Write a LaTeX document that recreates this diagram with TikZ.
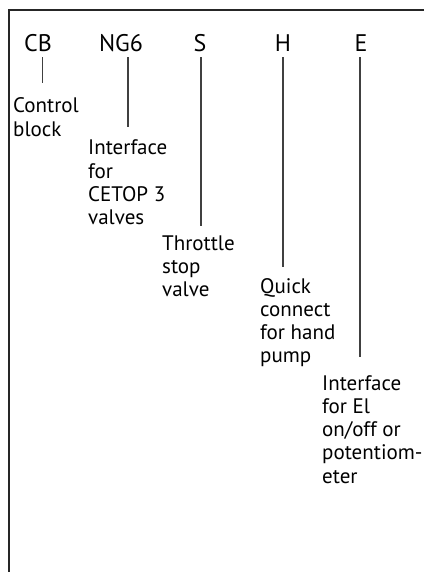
\documentclass[tikz,border=0pt]{standalone}
\usepackage{fontspec}
\setmainfont{PT Sans}
\newcommand{\lbl}[1]{\begin{tabular}[t]{@{}l@{}}#1\end{tabular}}
\begin{document}
\begin{tikzpicture}[x=1pt,y=-1pt,
  hdr/.style={anchor=base,inner sep=0pt,font=\fontsize{24}{28}\selectfont},
  txt/.style={anchor=base west,inner sep=0pt,font=\fontsize{21}{23.3}\selectfont},
  lead/.style={line width=1.4pt,draw=black!75},
  frame/.style={line width=1.6pt,draw=black!85}]
\useasboundingbox (0,0) rectangle (424,572);
\coordinate (tl) at (9,10);
\coordinate (tr) at (424,10);
\coordinate (bl) at (9,572);
\draw[frame] (tr) -- (tl) -- (bl);
% headers
\node[hdr] (cb) at (38,52) {CB};
\node[hdr] (ng) at (121,52) {NG6};
\node[hdr] (s) at (200,52) {S};
\node[hdr] (h) at (283,52) {H};
\node[hdr] (e) at (361,52) {E};
% labels
\node[txt] (tcb) at (13,113) {\lbl{Control\\block}};
\node[txt] (tng) at (88,155) {\lbl{Interface\\for\\CETOP 3\\valves}};
\node[txt] (ts) at (162,250) {\lbl{Throttle\\stop\\valve}};
\node[txt] (th) at (260,293) {\lbl{Quick\\connect\\for hand\\pump}};
\node[txt] (te) at (322,390) {\lbl{Interface\\for El\\on/off or\\potentiom-\\eter}};
% leader end points
\coordinate (ecb) at (42.7,83);
\coordinate (eng) at (128,127);
\coordinate (es) at (201,226);
\coordinate (eh) at (283,267);
\coordinate (ee) at (360,357);
\draw[lead] (cb.south -| ecb) ++(0,5) -- (ecb);
\draw[lead] (ng.south -| eng) ++(0,5) -- (eng);
\draw[lead] (s.south -| es) ++(0,5) -- (es);
\draw[lead] (h.south -| eh) ++(0,5) -- (eh);
\draw[lead] (e.south -| ee) ++(0,5) -- (ee);
\end{tikzpicture}
\end{document}
